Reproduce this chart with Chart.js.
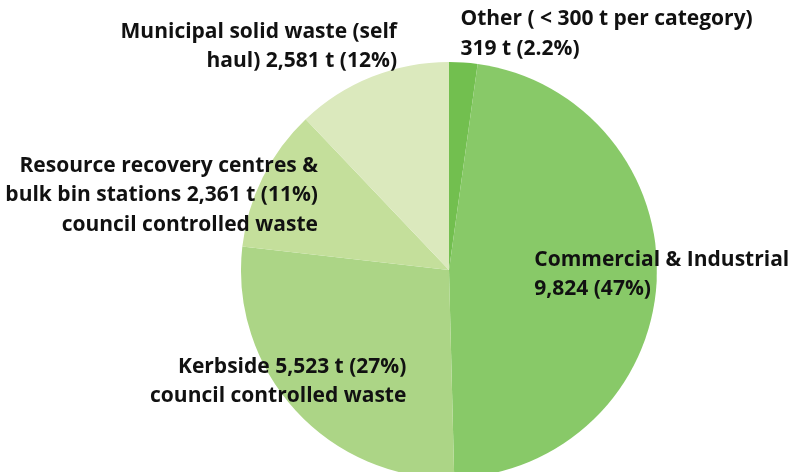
<!DOCTYPE html>
<html>
<head>
<meta charset="utf-8">
<script src="https://cdn.jsdelivr.net/npm/chart.js@4/dist/chart.umd.min.js"></script>
<style>
    html, body { margin: 0; padding: 0; background: #fff; overflow: hidden; }
    #wrap { width: 803px; height: 480px; }
</style>
</head>
<body>
<div id="wrap"><canvas id="waste-chart"></canvas></div>
<script>
// Categories, clockwise from 12 o'clock
const categories = [
    "Other",
    "Commercial & Industrial",
    "Kerbside",
    "Resource recovery centres & bulk bin stations",
    "Municipal solid waste (self haul)"
];

// Slice shares (%) as they appear in the pie
const shares = [2.2, 47.4, 27.2, 11.1, 12.1];

// Label text, one array of lines per slice
const labelLines = [
    ["Other ( < 300 t per category)", "319 t (2.2%)"],
    ["Commercial & Industrial", "9,824 (47%)"],
    ["Kerbside 5,523 t (27%)", "council controlled waste"],
    ["Resource recovery centres &", "bulk bin stations 2,361 t (11%)", "council controlled waste"],
    ["Municipal solid waste (self", "haul) 2,581 t (12%)"]
];

const sliceColors = ["#72bf4f", "#88c968", "#acd586", "#c4df9b", "#dbe9bd"];

// label anchor relative to pie centre, in units of radius
const labelAnchors = [
    { dx: 0.055, dy: -1.205, align: "left" },
    { dx: 0.41, dy: -0.05, align: "left" },
    { dx: -0.205, dy: 0.465, align: "right" },
    { dx: -0.63, dy: -0.50, align: "right" },
    { dx: -0.25, dy: -1.145, align: "right" }
];

const lineHeight = 29.5;

const labelPlugin = {
    id: "sliceLabels",
    afterDraw: chart => {
        const ctx = chart.ctx;
        const arc = chart.getDatasetMeta(0).data[0];
        const cx = arc.x, cy = arc.y, r = arc.outerRadius;
        ctx.save();
        ctx.font = "bold 21px 'Open Sans'";
        ctx.fillStyle = "#111";
        ctx.textBaseline = "middle";
        labelLines.forEach((lines, i) => {
            const a = labelAnchors[i];
            ctx.textAlign = a.align;
            lines.forEach((line, j) => {
                ctx.fillText(line, cx + a.dx * r, cy + a.dy * r + j * lineHeight);
            });
        });
        ctx.restore();
    }
};

let initChart = () => {
    const chartData = {
        labels: categories,
        datasets: [
            {
                data: shares,
                backgroundColor: sliceColors,
                borderWidth: 0
            }
        ]
    };

    new Chart(document.getElementById("waste-chart"), {
        type: "pie",
        data: chartData,
        options: {
            responsive: true,
            maintainAspectRatio: false,
            animation: false,
            layout: {
                padding: { top: 62, bottom: 2, left: 241, right: 146 }
            },
            plugins: {
                legend: { display: false },
                tooltip: { enabled: false }
            }
        },
        plugins: [labelPlugin]
    });
};

initChart();
</script>
</body>
</html>
